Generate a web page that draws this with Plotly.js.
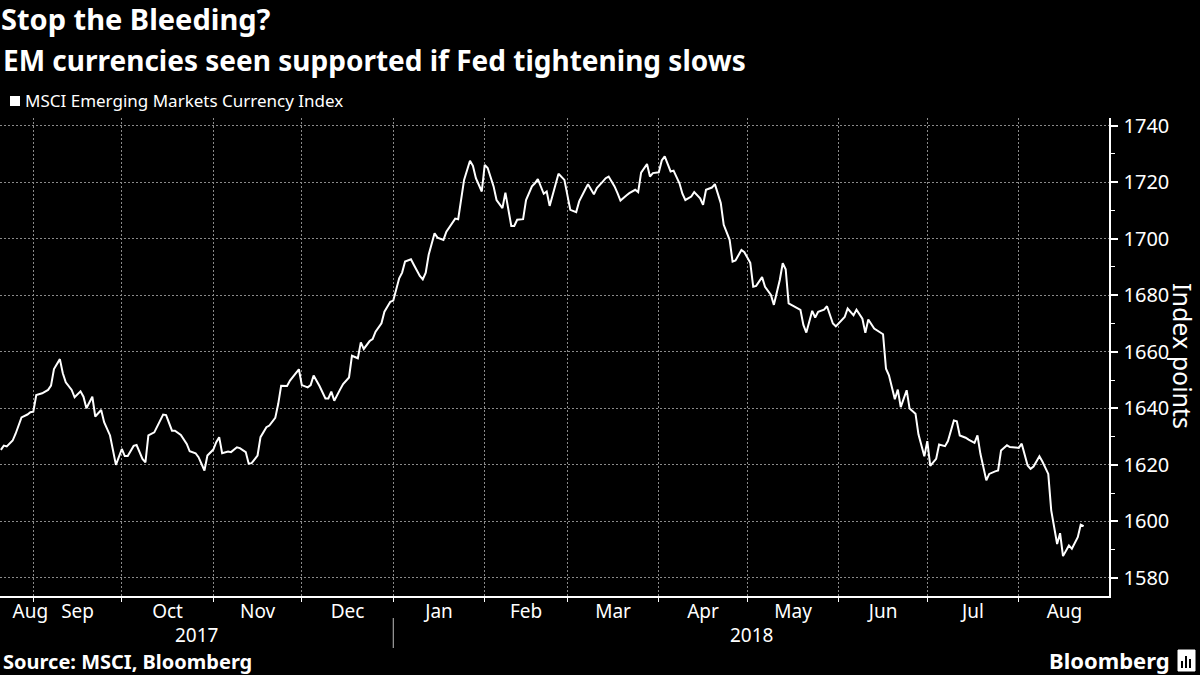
<!DOCTYPE html>
<html><head><meta charset="utf-8">
<script src="https://cdn.plot.ly/plotly-3.0.1.min.js"></script>
<style>html,body{margin:0;padding:0;background:#000;}#chart{width:1200px;height:675px;}</style>
</head><body><div id="chart"></div>
<script>
const dates = [
'2017-08-21','2017-08-22','2017-08-23','2017-08-25','2017-08-26','2017-08-28','2017-08-30','2017-08-31',
'2017-09-01','2017-09-02','2017-09-04','2017-09-06','2017-09-07','2017-09-08','2017-09-10','2017-09-11','2017-09-12','2017-09-14','2017-09-15','2017-09-17','2017-09-18','2017-09-19','2017-09-21','2017-09-22','2017-09-24','2017-09-25','2017-09-27','2017-09-28','2017-09-29',
'2017-10-01','2017-10-02','2017-10-03','2017-10-05','2017-10-06','2017-10-08','2017-10-09','2017-10-10','2017-10-12','2017-10-13','2017-10-15','2017-10-16','2017-10-18','2017-10-19','2017-10-21','2017-10-23','2017-10-24','2017-10-26','2017-10-27','2017-10-29','2017-10-30',
'2017-11-01','2017-11-02','2017-11-03','2017-11-04','2017-11-06','2017-11-07','2017-11-09','2017-11-10','2017-11-12','2017-11-13','2017-11-14','2017-11-16','2017-11-17','2017-11-19','2017-11-20','2017-11-22','2017-11-23','2017-11-24','2017-11-26','2017-11-27','2017-11-30',
'2017-12-01','2017-12-03','2017-12-04','2017-12-05','2017-12-07','2017-12-09','2017-12-10','2017-12-11','2017-12-12','2017-12-14','2017-12-15','2017-12-17','2017-12-18','2017-12-20','2017-12-21','2017-12-22','2017-12-24','2017-12-25','2017-12-26','2017-12-28','2017-12-29','2017-12-31',
'2018-01-01','2018-01-03','2018-01-04','2018-01-05','2018-01-07','2018-01-08','2018-01-10','2018-01-11','2018-01-12','2018-01-13','2018-01-15','2018-01-16','2018-01-18','2018-01-19','2018-01-21','2018-01-22','2018-01-23','2018-01-24','2018-01-25','2018-01-27','2018-01-28','2018-01-29','2018-01-31',
'2018-02-01','2018-02-02','2018-02-04','2018-02-05','2018-02-07','2018-02-08','2018-02-10','2018-02-11','2018-02-12','2018-02-14','2018-02-15','2018-02-17','2018-02-18','2018-02-19','2018-02-21','2018-02-22','2018-02-23','2018-02-25','2018-02-26','2018-02-28',
'2018-03-01','2018-03-02','2018-03-04','2018-03-05','2018-03-07','2018-03-08','2018-03-10','2018-03-11','2018-03-13','2018-03-14','2018-03-15','2018-03-17','2018-03-18','2018-03-19','2018-03-21','2018-03-22','2018-03-24','2018-03-25','2018-03-26','2018-03-28','2018-03-29','2018-03-30',
'2018-04-01','2018-04-02','2018-04-03','2018-04-05','2018-04-06','2018-04-08','2018-04-09','2018-04-10','2018-04-12','2018-04-13','2018-04-15','2018-04-16','2018-04-17','2018-04-19','2018-04-20','2018-04-22','2018-04-23','2018-04-25','2018-04-26','2018-04-27','2018-04-29','2018-04-30',
'2018-05-02','2018-05-03','2018-05-04','2018-05-06','2018-05-07','2018-05-09','2018-05-10','2018-05-12','2018-05-13','2018-05-14','2018-05-15','2018-05-17','2018-05-19','2018-05-20','2018-05-21','2018-05-23','2018-05-24','2018-05-25','2018-05-27','2018-05-28','2018-05-30','2018-05-31',
'2018-06-02','2018-06-03','2018-06-04','2018-06-06','2018-06-07','2018-06-09','2018-06-10','2018-06-11','2018-06-13','2018-06-14','2018-06-16','2018-06-17','2018-06-18','2018-06-20','2018-06-21','2018-06-22','2018-06-24','2018-06-25','2018-06-27','2018-06-28','2018-06-30',
'2018-07-01','2018-07-02','2018-07-04','2018-07-05','2018-07-07','2018-07-08','2018-07-10','2018-07-11','2018-07-12','2018-07-14','2018-07-15','2018-07-17','2018-07-18','2018-07-19','2018-07-21','2018-07-22','2018-07-24','2018-07-25','2018-07-26','2018-07-28','2018-07-29','2018-07-31',
'2018-08-01','2018-08-02','2018-08-04','2018-08-05','2018-08-06','2018-08-08','2018-08-09','2018-08-11','2018-08-12','2018-08-14','2018-08-15','2018-08-16','2018-08-18','2018-08-19','2018-08-21','2018-08-22','2018-08-23'
];
const values = [
1625.3,1626.8,1626.5,1628.6,1631.0,1636.8,1637.8,1638.6,
1638.8,1644.7,1645.3,1646.5,1648.0,1653.9,1657.4,1652.4,1649.2,1646.5,1643.9,1646.0,1644.1,1640.0,1644.1,1637.1,1639.4,1635.1,1630.4,1625.1,1620.0,
1625.6,1623.1,1623.1,1626.7,1627.0,1622.1,1620.9,1630.4,1631.5,1633.5,1637.8,1637.6,1632.1,1632.1,1630.6,1627.4,1624.8,1624.1,1622.7,1618.0,1623.3,
1625.4,1628.0,1629.8,1624.1,1624.7,1624.5,1626.2,1625.9,1624.5,1620.4,1620.6,1623.3,1629.8,1633.3,1633.9,1636.6,1641.5,1648.0,1647.9,1649.8,1653.8,
1648.2,1647.4,1648.2,1651.6,1647.9,1643.5,1643.5,1645.9,1642.7,1646.7,1648.6,1650.9,1658.6,1657.7,1663.3,1661.0,1663.8,1664.5,1667.1,1670.1,1674.2,1677.7,
1678.1,1686.0,1688.0,1691.9,1692.7,1690.7,1686.8,1685.6,1688.0,1694.3,1701.9,1700.4,1699.6,1702.5,1705.5,1707.1,1706.9,1714.3,1720.8,1727.6,1725.8,1721.4,1716.7,
1726.1,1725.0,1718.5,1713.7,1710.8,1716.3,1704.5,1704.5,1706.7,1706.9,1713.7,1718.5,1719.6,1721.1,1715.9,1716.7,1711.6,1719.1,1723.0,1720.8,
1714.9,1710.2,1709.4,1713.2,1717.3,1719.3,1715.7,1717.9,1720.2,1721.4,1722.0,1718.5,1716.1,1713.5,1715.3,1716.1,1717.3,1716.5,1723.4,1726.4,1722.0,1723.2,
1723.5,1727.7,1729.1,1723.8,1724.1,1719.6,1715.9,1713.7,1714.9,1716.5,1714.3,1712.0,1717.3,1718.1,1719.3,1712.6,1704.9,1699.6,1691.9,1692.3,1696.0,1695.2,
1691.5,1683.0,1683.3,1686.4,1683.0,1680.1,1676.6,1685.4,1691.3,1689.2,1677.1,1676.0,1674.8,1669.5,1666.8,1674.5,1672.1,1674.1,1674.9,1676.1,1670.0,1669.0,
1671.4,1672.3,1675.3,1672.9,1674.9,1671.7,1666.7,1671.4,1668.2,1667.6,1666.2,1654.0,1651.7,1643.2,1646.6,1640.4,1646.4,1639.9,1638.1,1630.8,1623.0,
1628.4,1619.6,1622.1,1627.2,1626.6,1628.4,1635.7,1635.4,1630.4,1629.6,1628.9,1627.8,1630.4,1623.9,1614.5,1616.8,1617.7,1618.0,1625.1,1626.9,1626.3,1626.0,
1626.0,1627.5,1619.8,1618.6,1619.4,1623.0,1621.2,1616.8,1603.9,1592.0,1595.8,1587.7,1591.5,1590.3,1594.4,1598.8,1598.3
];
const monthTickDates = ['2017-09-01','2017-10-01','2017-11-01','2017-12-01','2018-01-01','2018-02-01','2018-03-01','2018-04-01','2018-05-01','2018-06-01','2018-07-01','2018-08-01'];
const monthLabels = ['Aug','Sep','Oct','Nov','Dec','Jan','Feb','Mar','Apr','May','Jun','Jul','Aug'];
const monthLabelDates = ['2017-08-31','2017-09-16','2017-10-16 12:00','2017-11-16','2017-12-16 12:00','2018-01-16 12:00','2018-02-15','2018-03-16 12:00','2018-04-16','2018-05-16 12:00','2018-06-16','2018-07-16 12:00','2018-08-16 12:00'];
const yearLabels = ['2017','2018'];
const yearLabelDates = ['2017-10-26 08:00','2018-05-02 07:00'];
const yearBoundary = '2018-01-01';
const yTicks = [1580,1600,1620,1640,1660,1680,1700,1720,1740];
const xRange = ['2017-08-20 17:00','2018-08-31 14:00'];
const yRange = [1573.6,1742.7];

const FONT = '"Noto Sans", "DejaVu Sans", sans-serif';
const PW = 1109, PT = 118, PB = 596, PH = PB - PT;
const px = x => x / PW;
const py = y => (PB - y) / PH;
const GRID = '#8a8a8a';

const traces = [
  {type:'scatter', mode:'lines', x:dates, y:values, line:{color:'#ffffff', width:2}, hoverinfo:'skip', showlegend:false},
  {type:'scatter', mode:'lines', x:[xRange[0]], y:[null], xaxis:'x2', yaxis:'y', hoverinfo:'skip', showlegend:false}
];

const annotations = [
  {text:'EM currencies seen supported if Fed tightening slows', xref:'paper', yref:'paper', x:px(1), y:py(60), xanchor:'left', yanchor:'middle', showarrow:false, font:{family:FONT, size:28, color:'#fff', weight:'bold'}},
  {text:'MSCI Emerging Markets Currency Index', xref:'paper', yref:'paper', x:px(23), y:py(101), xanchor:'left', yanchor:'middle', showarrow:false, font:{family:FONT, size:17, color:'#fff'}},
  {text:'Index points', xref:'paper', yref:'paper', x:px(1183), y:py(356), xanchor:'center', yanchor:'middle', textangle:90, showarrow:false, font:{family:FONT, size:25, color:'#fff'}},
  {text:'Source: MSCI, Bloomberg', xref:'paper', yref:'paper', x:px(1), y:py(661), xanchor:'left', yanchor:'middle', showarrow:false, font:{family:FONT, size:20, color:'#fff', weight:'bold'}},
  {text:'Bloomberg', xref:'paper', yref:'paper', x:px(1172), y:py(660), xanchor:'right', yanchor:'middle', showarrow:false, font:{family:FONT, size:22, color:'#fff', weight:'bold'}}
];
yearLabels.forEach((t,i)=>annotations.push({text:t, xref:'x', yref:'paper', x:yearLabelDates[i], y:py(635), xanchor:'center', yanchor:'middle', showarrow:false, font:{family:FONT, size:19, color:'#fff'}}));

const shapes = [
  {type:'rect', xref:'paper', yref:'paper', x0:px(10), x1:px(20), y0:py(106), y1:py(96), fillcolor:'#fff', line:{width:0}},
  {type:'line', xref:'x', yref:'paper', x0:yearBoundary, x1:yearBoundary, y0:py(618), y1:py(648), line:{color:'#bdbdbd', width:1}},
  {type:'rect', xref:'paper', yref:'paper', x0:px(1178), x1:px(1195), y0:py(671), y1:py(650), fillcolor:'#fff', line:{color:'#fff', width:1}},
  {type:'rect', xref:'paper', yref:'paper', x0:px(1181), x1:px(1183), y0:py(668), y1:py(661), fillcolor:'#000', line:{width:0}},
  {type:'rect', xref:'paper', yref:'paper', x0:px(1185), x1:px(1187), y0:py(668), y1:py(656), fillcolor:'#000', line:{width:0}},
  {type:'rect', xref:'paper', yref:'paper', x0:px(1189), x1:px(1191), y0:py(668), y1:py(659), fillcolor:'#000', line:{width:0}}
];

const layout = {
  width:1200, height:675,
  paper_bgcolor:'#000', plot_bgcolor:'#000',
  margin:{l:0, r:1200-PW, t:PT, b:675-PB, pad:0},
  showlegend:false,
  font:{family:FONT, color:'#fff'},
  title:{text:'Stop the Bleeding?', font:{family:FONT, size:29, color:'#fff', weight:'bold'}, x:1/1200, xanchor:'left', xref:'container', y:1-20/675, yanchor:'middle', yref:'container'},
  xaxis:{type:'date', range:xRange, tickmode:'array', tickvals:monthTickDates, ticktext:monthTickDates.map(()=>''), ticks:'outside', ticklen:4, tickcolor:'#fff', tickwidth:1, showline:true, linecolor:'#fff', linewidth:1.5, showgrid:true, gridcolor:GRID, griddash:'2px,2px', gridwidth:1, zeroline:false, fixedrange:true},
  xaxis2:{type:'date', overlaying:'x', anchor:'y', side:'bottom', range:xRange, tickmode:'array', tickvals:monthLabelDates, ticktext:monthLabels, ticks:'', showgrid:false, showline:false, zeroline:false, tickfont:{family:FONT, size:19, color:'#fff'}, ticklabelstandoff:2, fixedrange:true},
  yaxis:{side:'right', range:yRange, tickmode:'array', tickvals:yTicks, ticks:'outside', ticklen:7, tickwidth:2, tickcolor:'#fff', showline:true, linecolor:'#fff', linewidth:1.5, showgrid:true, gridcolor:GRID, griddash:'2px,2px', gridwidth:1, zeroline:false, tickfont:{family:FONT, size:20, color:'#fff'}, ticklabelstandoff:2, fixedrange:true,
    minor:{tickmode:'linear', tick0:1570, dtick:20, ticks:'outside', ticklen:4, tickcolor:'#fff', tickwidth:1, showgrid:false}},
  annotations:annotations,
  shapes:shapes
};

Plotly.newPlot('chart', traces, layout, {staticPlot:true, displayModeBar:false});
</script>
</body></html>
